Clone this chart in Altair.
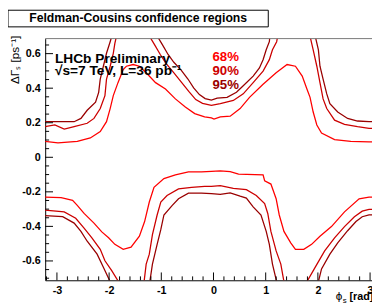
import altair as alt
import pandas as pd

# ---------------- data (phi [rad], DeltaGamma_s [ps^-1]) ----------------
levels = ["68%", "90%", "95%"]
level_colors = ["#ff0000", "#cc0000", "#990000"]

c68_upper_phi = [-3.23, -2.98, -2.61, -2.36, -2.17, -2.05, -1.98, -1.92, -1.83, -1.73,
                 -1.67, -1.54, -1.42, -1.29, -1.11, -0.92, -0.73, -0.54, -0.36, -0.17,
                 -0.04, 0.01, 0.13, 0.32, 0.51, 0.69, 0.95, 1.20, 1.41, 1.57,
                 1.70, 1.79, 1.85, 1.91, 1.98, 2.07, 2.32, 2.63, 2.98, 3.05]
c68_upper_dg = [0.092, 0.083, 0.092, 0.112, 0.149, 0.206, 0.282, 0.357, 0.432, 0.508,
                0.527, 0.537, 0.527, 0.489, 0.432, 0.395, 0.338, 0.291, 0.253, 0.234,
                0.228, 0.221, 0.234, 0.238, 0.282, 0.347, 0.423, 0.489, 0.537, 0.527,
                0.470, 0.395, 0.347, 0.262, 0.187, 0.140, 0.102, 0.092, 0.089, 0.089]

c68_lower_phi = [-3.23, -2.92, -2.70, -2.61, -2.48, -2.29, -2.14, -2.01, -1.89, -1.73,
                 -1.58, -1.42, -1.32, -1.23, -1.14, -0.95, -0.73, -0.48, -0.23, -0.04,
                 0.13, 0.32, 0.48, 0.95, 0.98, 1.10, 1.20, 1.26, 1.35, 1.48,
                 1.57, 1.73, 1.88, 2.04, 2.26, 2.51, 2.79, 2.98, 3.05]
c68_lower_dg = [-0.231, -0.234, -0.249, -0.278, -0.325, -0.381, -0.432, -0.466, -0.504, -0.533,
                -0.520, -0.457, -0.372, -0.259, -0.174, -0.123, -0.102, -0.085, -0.085, -0.081,
                -0.079, -0.083, -0.098, -0.102, -0.136, -0.155, -0.240, -0.334, -0.429, -0.495,
                -0.533, -0.533, -0.504, -0.457, -0.401, -0.316, -0.240, -0.231, -0.231]

c90_ul_phi = [-3.23, -3.04, -2.86, -2.67, -2.42, -2.29, -2.17, -2.08, -2.05, -1.98, -1.92, -1.89, -1.86]
c90_ul_dg = [0.177, 0.187, 0.163, 0.177, 0.197, 0.225, 0.282, 0.357, 0.452, 0.527, 0.602, 0.659, 0.70]

c90_um_phi = [-1.225, -1.13, -1.02, -0.91, -0.77, -0.62, -0.47, -0.34, -0.21, -0.04,
              0.13, 0.38, 0.57, 0.76, 0.95, 1.07, 1.13, 1.21, 1.23]
c90_um_dg = [0.70, 0.652, 0.595, 0.544, 0.493, 0.436, 0.380, 0.334, 0.312, 0.300,
             0.310, 0.329, 0.367, 0.432, 0.499, 0.565, 0.622, 0.669, 0.70]

c90_ur_phi = [1.85, 1.91, 1.98, 2.04, 2.10, 2.17, 2.32, 2.51, 2.76, 2.98, 3.05]
c90_ur_dg = [0.70, 0.622, 0.527, 0.432, 0.338, 0.282, 0.215, 0.191, 0.177, 0.168, 0.168]

c95_ul_phi = [-3.23, -2.67, -2.54, -2.42, -2.26, -2.20, -2.17, -2.11, -2.05, -1.98, -1.95]
c95_ul_dg = [0.206, 0.206, 0.225, 0.272, 0.319, 0.376, 0.452, 0.527, 0.602, 0.669, 0.70]

c95_um_phi = [-1.075, -0.98, -0.87, -0.76, -0.62, -0.49, -0.38, -0.27, -0.16, -0.04,
              0.07, 0.26, 0.44, 0.57, 0.76, 0.88, 0.95, 1.01, 1.07, 1.08]
c95_um_dg = [0.70, 0.652, 0.595, 0.550, 0.505, 0.453, 0.402, 0.363, 0.340, 0.331,
             0.342, 0.347, 0.376, 0.414, 0.470, 0.517, 0.565, 0.622, 0.669, 0.70]

c95_ur_phi = [1.95, 2.01, 2.04, 2.10, 2.17, 2.23, 2.38, 2.57, 2.76, 2.98, 3.05]
c95_ur_dg = [0.70, 0.622, 0.527, 0.452, 0.367, 0.310, 0.262, 0.225, 0.210, 0.206, 0.206]

c90_ll_phi = [-3.23, -2.86, -2.64, -2.48, -2.33, -2.17, -2.08, -1.95, -1.82]
c90_ll_dg = [-0.306, -0.316, -0.353, -0.410, -0.466, -0.533, -0.599, -0.656, -0.72]

c90_lm_phi = [-1.33, -1.29, -1.23, -1.17, -1.08, -1.01, -0.89, -0.67, -0.42, -0.17, -0.04,
              0.13, 0.38, 0.63, 0.82, 0.98, 1.04, 1.10, 1.20, 1.29, 1.35]
c90_lm_dg = [-0.72, -0.618, -0.561, -0.448, -0.334, -0.259, -0.221, -0.183, -0.174, -0.168, -0.168,
             -0.164, -0.180, -0.187, -0.221, -0.268, -0.325, -0.429, -0.542, -0.618, -0.72]

c90_lr_phi = [1.79, 1.95, 2.13, 2.32, 2.51, 2.70, 2.85, 2.98, 3.05]
c90_lr_dg = [-0.72, -0.636, -0.542, -0.466, -0.401, -0.344, -0.312, -0.302, -0.302]

c95_ll_phi = [-3.23, -2.89, -2.67, -2.54, -2.42, -2.23, -2.11, -1.98]
c95_ll_dg = [-0.338, -0.344, -0.381, -0.429, -0.486, -0.561, -0.636, -0.72]

c95_lm_phi = [-1.22, -1.17, -1.08, -1.01, -0.95, -0.79, -0.67, -0.48, -0.23, -0.04,
              0.13, 0.32, 0.51, 0.63, 0.76, 0.91, 1.01, 1.07, 1.13, 1.21]
c95_lm_dg = [-0.72, -0.618, -0.504, -0.419, -0.334, -0.278, -0.240, -0.208, -0.208, -0.211,
             -0.215, -0.206, -0.225, -0.236, -0.287, -0.334, -0.429, -0.504, -0.618, -0.72]

c95_lr_phi = [2.01, 2.07, 2.23, 2.38, 2.57, 2.73, 2.85, 2.98, 3.05]
c95_lr_dg = [-0.72, -0.646, -0.561, -0.495, -0.425, -0.372, -0.344, -0.334, -0.334]

x_major = [-3, -2, -1, 0, 1, 2, 3]
x_minor = [-3.2, -2.8, -2.6, -2.4, -2.2, -1.8, -1.6, -1.4, -1.2, -0.8, -0.6, -0.4, -0.2,
           0.2, 0.4, 0.6, 0.8, 1.2, 1.4, 1.6, 1.8, 2.2, 2.4, 2.6, 2.8]
y_major = [-0.6, -0.4, -0.2, 0.0, 0.2, 0.4, 0.6]
y_minor = [-0.70, -0.65, -0.55, -0.50, -0.45, -0.35, -0.30, -0.25, -0.15, -0.10, -0.05,
           0.05, 0.10, 0.15, 0.25, 0.30, 0.35, 0.45, 0.50, 0.55, 0.65]

X_DOMAIN = [-3.225, 3.037]
Y_DOMAIN = [-0.712, 0.687]

segments = [
    ("68%", "c68_upper", c68_upper_phi, c68_upper_dg),
    ("68%", "c68_lower", c68_lower_phi, c68_lower_dg),
    ("90%", "c90_ul", c90_ul_phi, c90_ul_dg),
    ("90%", "c90_um", c90_um_phi, c90_um_dg),
    ("90%", "c90_ur", c90_ur_phi, c90_ur_dg),
    ("90%", "c90_ll", c90_ll_phi, c90_ll_dg),
    ("90%", "c90_lm", c90_lm_phi, c90_lm_dg),
    ("90%", "c90_lr", c90_lr_phi, c90_lr_dg),
    ("95%", "c95_ul", c95_ul_phi, c95_ul_dg),
    ("95%", "c95_um", c95_um_phi, c95_um_dg),
    ("95%", "c95_ur", c95_ur_phi, c95_ur_dg),
    ("95%", "c95_ll", c95_ll_phi, c95_ll_dg),
    ("95%", "c95_lm", c95_lm_phi, c95_lm_dg),
    ("95%", "c95_lr", c95_lr_phi, c95_lr_dg),
]
rows = []
for level, name, ph, dg in segments:
    for i, (p, d) in enumerate(zip(ph, dg)):
        rows.append({"level": level, "seg": name, "i": i, "phi": p, "dg": d})
df = pd.DataFrame(rows)

FONT = "Liberation Sans"
xs = alt.Scale(domain=X_DOMAIN, nice=False, zero=False)
ys = alt.Scale(domain=Y_DOMAIN, nice=False, zero=False)
minus_expr = "datum.value == 0 ? '0' : (datum.value < 0 ? '-' : '') + format(abs(datum.value), '{f}')"
x_axis = alt.Axis(values=x_major, labelExpr=minus_expr.replace("{f}", "d"), title=None,
                  ticks=False, grid=False, domainColor="black", domainWidth=1,
                  labelFont=FONT, labelFontWeight="bold", labelFontSize=11,
                  labelColor="black", labelPadding=4, labelFlush=False, labelOverlap=False)
y_axis = alt.Axis(values=y_major, labelExpr=minus_expr.replace("{f}", ".1f"), title=None,
                  ticks=False, grid=False, domainColor="black", domainWidth=1,
                  labelFont=FONT, labelFontWeight="bold", labelFontSize=11,
                  labelColor="black", labelPadding=5, labelFlush=False, labelOverlap=False)
X = alt.X("phi:Q", scale=xs, axis=x_axis)
Y = alt.Y("dg:Q", scale=ys, axis=y_axis)

lines = alt.Chart(df).mark_line(clip=True, strokeWidth=1.3).encode(
    x=X, y=Y,
    color=alt.Color("level:N", scale=alt.Scale(domain=levels, range=level_colors), legend=None),
    detail="seg:N",
    order=alt.Order("i:Q"),
)

ytm = alt.Chart(pd.DataFrame({"dg": y_major})).mark_rule(color="black").encode(
    y=Y, x=alt.value(0), x2=alt.value(8))
ytn = alt.Chart(pd.DataFrame({"dg": y_minor})).mark_rule(color="black", clip=True).encode(
    y=Y, x=alt.value(0), x2=alt.value(4))
xtm = alt.Chart(pd.DataFrame({"phi": x_major})).mark_rule(color="black").encode(
    x=X, y=alt.value(247), y2=alt.value(239))
xtn = alt.Chart(pd.DataFrame({"phi": x_minor})).mark_rule(color="black").encode(
    x=X, y=alt.value(247), y2=alt.value(243))

one = pd.DataFrame({"k": [0]})
top_line = alt.Chart(one).mark_rule(color="#777777", strokeWidth=1).encode(
    x=alt.value(0), x2=alt.value(334), y=alt.value(0))

def txt(s, x, y, size, color="black", weight="bold", align="left", angle=0, font=FONT, baseline="alphabetic"):
    return alt.Chart(one).mark_text(text=s, font=font, fontSize=size, fontWeight=weight,
                                    color=color, align=align, baseline=baseline, angle=angle).encode(
        x=alt.value(x), y=alt.value(y))

title_box = alt.Chart(one).mark_rect(fill="white", stroke="black", strokeWidth=1).encode(
    x=alt.value(-38), x2=alt.value(228), y=alt.value(-29), y2=alt.value(-12))

texts = [
    txt("Feldman-Cousins confidence regions", 95, -20.5, 12.5, align="center", baseline="middle"),
    txt("LHCb Preliminary", 10, 24.7, 14),
    txt("\u221as=7 TeV, L=36 pb\u207b\u00b9", 10, 37.3, 14),
    txt("68%", 171, 23, 13.5, color=level_colors[0]),
    txt("90%", 171, 37.5, 13.5, color=level_colors[1]),
    txt("95%", 171, 51.8, 13.5, color=level_colors[2]),
    txt("\u0394\u0393\u209b [ps\u207b\u00b9]", -27, -3, 12, weight="normal", align="right", angle=270),
    txt("\u03d5", 297, 267, 12, weight="normal"),
    txt("s", 304, 270, 8, weight="normal"),
    txt("[rad]", 311, 267, 11),
]

chart = alt.layer(lines, ytm, ytn, xtm, xtn, top_line, title_box, *texts).properties(
    width=334, height=247,
    autosize=alt.AutoSizeParams(type="none"),
    padding={"left": 38, "top": 28, "right": 0, "bottom": 23},
    background="white",
).configure_view(stroke=None)

chart.save("out.html", embed_options={"renderer": "svg", "actions": False})
